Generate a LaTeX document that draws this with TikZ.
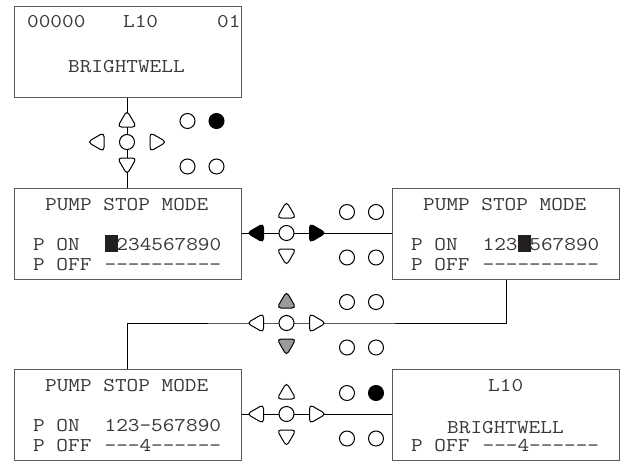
\documentclass[tikz,border=0pt]{standalone}
\usepackage{fontspec}
\usepackage{graphicx}
\setmonofont{Latin Modern Mono}
\usetikzlibrary{shapes.geometric}
\definecolor{txt}{HTML}{383838}
\definecolor{frame}{HTML}{5A5A5A}
\definecolor{padgray}{HTML}{9A9A9A}
\definecolor{cursorc}{HTML}{231F20}
\newcommand\lcdtext[1]{\scalebox{1.16}[1]{#1}}
\newcommand\cursorblk{\makebox[0.525em][l]{\textcolor{cursorc}{\rule[-2pt]{11.8pt}{17.5pt}}}}
\newcommand\keypad[4]{%
 \node[key] (#1-ok) at (#1) {};
 \node[tri,#3,shape border rotate=0] (#1-up) at ([shift={(0,-20.5)}]#1) {};
 \node[tri,#3,shape border rotate=180] (#1-dn) at ([shift={(0,21.5)}]#1) {};
 \node[tri,#2,shape border rotate=90] (#1-lt) at ([shift={(-28.5,0)}]#1) {};
 \node[tri,#2,shape border rotate=270] (#1-rt) at ([shift={(28.5,0)}]#1) {};
 \node[lamp] (#1-l1) at ([shift={(60.5,-21)}]#1) {};
 \node[lamp,#4] (#1-l2) at ([shift={(89.5,-21)}]#1) {};
 \node[lamp] (#1-l3) at ([shift={(60.5,24.5)}]#1) {};
 \node[lamp] (#1-l4) at ([shift={(89.5,24.5)}]#1) {};
}
\begin{document}
\begin{tikzpicture}[x=1pt,y=-1pt,
  lcd/.style={draw=frame, line width=1.1pt, fill=white, rectangle,
    minimum width=227pt, minimum height=91pt, anchor=north west, inner sep=0pt},
  lbl/.style={anchor=base west, inner sep=0pt,
    font=\fontsize{19.5}{22}\selectfont\ttfamily, text=txt},
  wire/.style={draw=black, line width=1pt},
  key/.style={circle, draw=black, line width=1pt, fill=white,
    minimum size=15pt, inner sep=0pt},
  lamp/.style={circle, draw=black, line width=1pt, fill=white,
    minimum size=15pt, inner sep=0pt},
  tri/.style={regular polygon, regular polygon sides=3, draw=black,
    line width=1pt, fill=white, minimum size=22pt, inner sep=0pt,
    rounded corners=4pt},
  dark/.style={fill=black},
  shade/.style={fill=padgray}
]
\useasboundingbox (0,0) rectangle (624,461);

% displays
\node[lcd] (b1) at (14,6) {};
\node[lcd] (b2) at (14,188) {};
\node[lcd] (b3) at (392,188) {};
\node[lcd] (b4) at (14,369) {};
\node[lcd] (b5) at (392,369) {};

% texts box 1
\node[lbl] (t1a) at (27,27) {\lcdtext{00000}};
\node[lbl] (t1b) at (123,27) {\lcdtext{L10}};
\node[lbl] (t1c) at (217,27) {\lcdtext{01}};
\node[lbl] (t1d) at (68,72) {\lcdtext{BRIGHTWELL}};

% texts box 2
\node[lbl] (t2a) at (45,210) {\lcdtext{PUMP STOP MODE}};
\node[lbl] (t2b) at (33,250) {\lcdtext{P ON}};
\node[lbl] (t2c) at (104.4,250) {\lcdtext{\cursorblk234567890}};
\node[lbl] (t2d) at (33,270) {\lcdtext{P OFF}};
\node[lbl] (t2e) at (104.4,270) {\lcdtext{----------}};

% texts box 3
\node[lbl] (t3a) at (423,210) {\lcdtext{PUMP STOP MODE}};
\node[lbl] (t3b) at (411,250) {\lcdtext{P ON}};
\node[lbl] (t3c) at (482.4,250) {\lcdtext{123\cursorblk567890}};
\node[lbl] (t3d) at (411,270) {\lcdtext{P OFF}};
\node[lbl] (t3e) at (482.4,270) {\lcdtext{----------}};

% texts box 4
\node[lbl] (t4a) at (45,391) {\lcdtext{PUMP STOP MODE}};
\node[lbl] (t4b) at (33,431) {\lcdtext{P ON}};
\node[lbl] (t4c) at (104.4,431) {\lcdtext{123-567890}};
\node[lbl] (t4d) at (33,451) {\lcdtext{P OFF}};
\node[lbl] (t4e) at (104.4,451) {\lcdtext{---4------}};

% texts box 5
\node[lbl] (t5a) at (488,391) {\lcdtext{L10}};
\node[lbl] (t5b) at (447,433) {\lcdtext{BRIGHTWELL}};
\node[lbl] (t5d) at (411,451) {\lcdtext{P OFF}};
\node[lbl] (t5e) at (482.4,451) {\lcdtext{---4------}};

% keypad centres
\coordinate (c1) at (127,142);
\coordinate (c2) at (286.5,233);
\coordinate (c3) at (286.5,323);
\coordinate (c4) at (286.5,414);

% wires
\draw[wire] (b1.south -| c1) -- (b2.north -| c1);
\draw[wire] (b2.east |- c2) -- (b3.west |- c2);
\draw[wire] (b3.south) |- (c3) -| (b4.north -| c1);
\draw[wire] (b4.east |- c4) -- (b5.west |- c4);

% keypads
\keypad{c1}{}{}{dark}
\keypad{c2}{dark}{}{}
\keypad{c3}{}{shade}{}
\keypad{c4}{}{}{dark}
\end{tikzpicture}
\end{document}
